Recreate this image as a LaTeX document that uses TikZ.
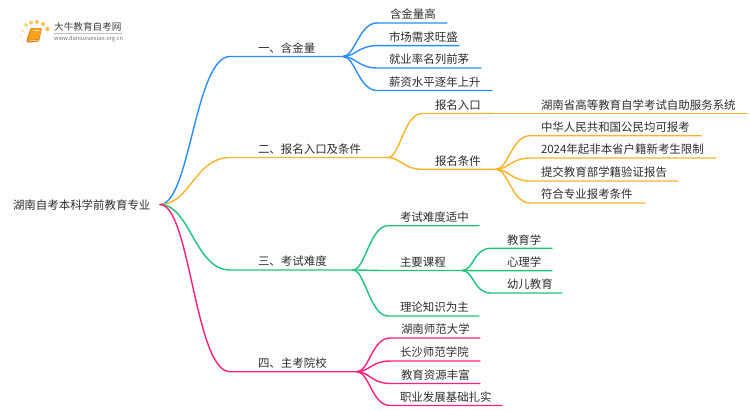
\documentclass[tikz,border=0pt]{standalone}
\usepackage{fontspec}
\setmainfont{Noto Sans CJK SC}
\definecolor{cblue}{HTML}{2A8EFF}
\definecolor{corange}{HTML}{F9B42C}
\definecolor{cgreen}{HTML}{1FC47C}
\definecolor{cpink}{HTML}{FF1F7E}
\definecolor{ctext}{HTML}{2E2E2E}
\definecolor{cbook}{HTML}{F7A11E}
\definecolor{cbookdark}{HTML}{E57E12}
\tikzset{
  item/.style={anchor=south west,inner xsep=0pt,inner ysep=0pt,outer sep=0pt,minimum height=18pt,text height=11pt,text depth=1.1pt,align=left,text=ctext,font=\fontsize{11.45}{13}\selectfont},
  link/.style={line width=1.4pt,line cap=round},
}
% name, x start, x end, line y, left padding, text
\newcommand{\itm}[6]{\pgfmathsetlengthmacro{\itmw}{(#3-#2)*1pt}\node[item,text width=\itmw] (#1) at (#2,#4) {\hspace*{#5pt}#6};}
% colour, parent, child
\newcommand{\trunk}[3]{\draw[link,#1] (#2.south east) .. controls +(12,0) and +(-18,0) .. (#3.south west) -- (#3.south east);}
\begin{document}
\begin{tikzpicture}[x=1pt,y=-1pt]
\useasboundingbox[fill=white] (0,0) rectangle (750,410);
% logo
\foreach \px/\py/\pr/\po in {26/25/2/.55,31/22.6/2/.7,37/22/2/.8,43/24/2/.8,47.5/29/2.2/.85,23/31/1.4/.4,21/36/1.2/.3,23/42/1.2/.25}
  \fill[corange,opacity=\po] (\px,\py) circle (\pr);
\fill[cbookdark,rounded corners=1pt] (30.5,28) -- (42,28) -- (39,41.5) -- (27,42.7) -- (26.5,40) -- cycle;
\fill[cbook,rounded corners=.8pt] (31,28.3) -- (41.5,28.3) -- (38.6,39) -- (28,40) -- cycle;
\draw[white,opacity=.7,line width=.5pt] (32.5,30.5) -- (39.5,30.5);
\draw[white,opacity=.8,line width=.5pt] (28,41) -- (38.5,40.2);
\node[inner sep=0pt,anchor=west,text=black!75,font=\fontsize{9.6}{11}\selectfont] (logotitle) at (54,27) {大牛教育自考网};
\draw[black!25,line width=.5pt] (54,33) -- (122,33);
\node[inner sep=0pt,anchor=west,text=black!55,font=\fontsize{5.7}{7}\selectfont] (logourl) at (54,38.5) {www.daniuxuexiao.org.cn};
% root
\itm{root}{13}{160}{213.5}{0}{湖南自考本科学前教育专业}
% branches
\itm{a}{230}{343}{56.5}{28}{一、含金量}
\itm{b}{230}{388}{157.5}{28}{二、报名入口及条件}
\itm{c}{230}{353}{270}{28}{三、考试难度}
\itm{d}{230}{357}{371.7}{28}{四、主考院校}
\foreach \ch/\co in {a/cblue,b/corange,c/cgreen,d/cpink}
  \draw[link,\co] (root.east) .. controls +(30,0) and +(-35,0) .. (\ch.south west) -- (\ch.south east);
% branch one
\itm{a1}{377}{447}{23}{13}{含金量高}
\itm{a2}{377}{459}{45.6}{12}{市场需求旺盛}
\itm{a3}{377}{481}{68}{12}{就业率名列前茅}
\itm{a4}{377}{492}{90.5}{12}{薪资水平逐年上升}
\foreach \ch in {a1,a2,a3,a4} {\trunk{cblue}{a}{\ch}}
% branch two
\itm{b1}{422}{492}{113.5}{13}{报名入口}
\itm{b2}{422}{496}{169.3}{13}{报名条件}
\trunk{corange}{b}{b1}
\trunk{corange}{b}{b2}
\itm{b11}{492}{747}{113.5}{49}{湖南省高等教育自学考试自助服务系统}
\draw[link,corange] (b11.south west) -- (b11.south east);
\itm{b21}{530}{701}{135.7}{11}{中华人民共和国公民均可报考}
\itm{b22}{530}{716}{158}{11}{2024年起非本省户籍新考生限制}
\itm{b23}{530}{678}{181}{11}{提交教育部学籍验证报告}
\itm{b24}{530}{645}{203}{11}{符合专业报考条件}
\foreach \ch in {b21,b22,b23,b24} {\trunk{corange}{b2}{\ch}}
% branch three
\itm{c1}{388}{479}{225.7}{12}{考试难度适中}
\itm{c2}{388}{462}{270.5}{12}{主要课程}
\itm{c3}{388}{479}{316}{12}{理论知识为主}
\foreach \ch in {c1,c2,c3} {\trunk{cgreen}{c}{\ch}}
\itm{c21}{491}{552}{248.3}{16}{教育学}
\itm{c22}{491}{552}{270.7}{16}{心理学}
\itm{c23}{491}{562}{293}{16}{幼儿教育}
\foreach \ch in {c21,c22,c23} {\trunk{cgreen}{c2}{\ch}}
% branch four
\itm{d1}{390}{480}{338}{11}{湖南师范大学}
\itm{d2}{390}{480}{361}{10}{长沙师范学院}
\itm{d3}{390}{480}{383.5}{11}{教育资源丰富}
\itm{d4}{390}{502}{405.5}{10}{职业发展基础扎实}
\foreach \ch in {d1,d2,d3,d4} {\trunk{cpink}{d}{\ch}}
\end{tikzpicture}
\end{document}
